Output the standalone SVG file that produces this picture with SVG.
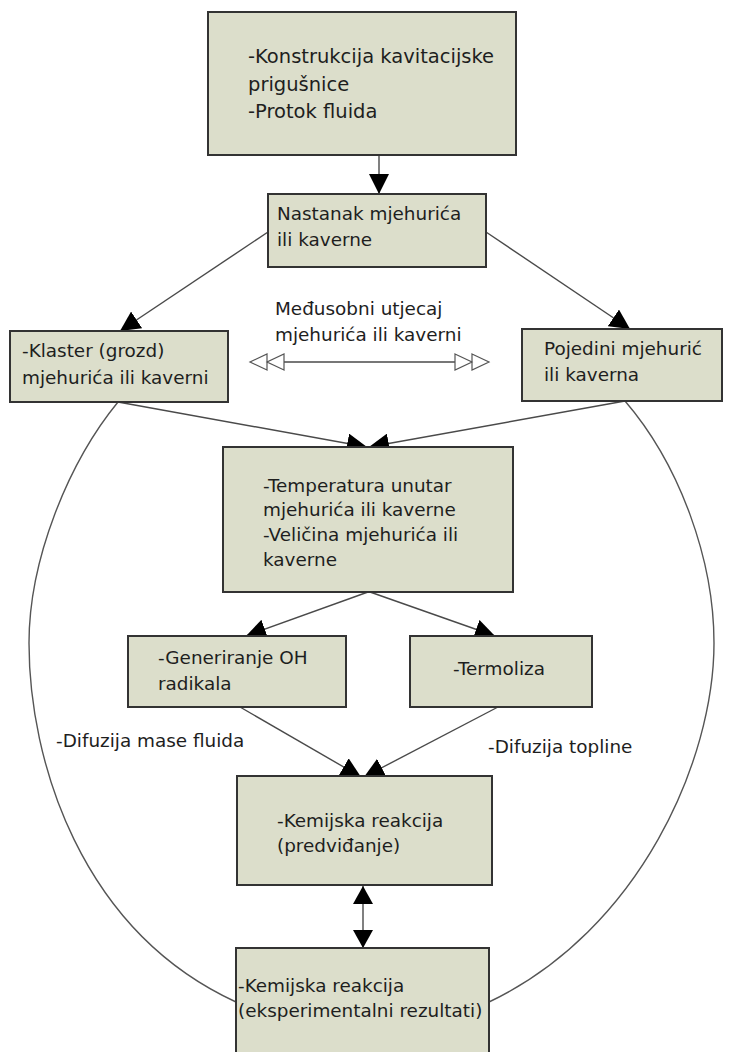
<svg xmlns="http://www.w3.org/2000/svg" width="732" height="1052" viewBox="0 0 732 1052">
<style>
  .box { fill: #dcdecb; stroke: #333; stroke-width: 2; }
  .t { font-family: "DejaVu Sans", "Liberation Sans", sans-serif; font-size: 18.4px; fill: #1e1e1e; }
  .big { font-size: 19.5px; }
  .con { stroke: #4a4a4a; stroke-width: 1.4; fill: none; }
  .arc { stroke: #555; stroke-width: 1.4; fill: none; }
</style>
<defs>
  <marker id="ah" viewBox="0 0 20 20" refX="20" refY="10" markerWidth="20" markerHeight="20" orient="auto" markerUnits="userSpaceOnUse">
    <path d="M0,0 L20,10 L0,20 z" fill="#000"/>
  </marker>
  <marker id="ah2" viewBox="0 0 18 20" refX="18" refY="10" markerWidth="18" markerHeight="20" orient="auto-start-reverse" markerUnits="userSpaceOnUse">
    <path d="M0,0 L18,10 L0,20 z" fill="#000"/>
  </marker>
  <marker id="open2" viewBox="-1 -1 37 18" refX="0" refY="8" markerWidth="37" markerHeight="18" orient="auto-start-reverse" markerUnits="userSpaceOnUse" overflow="visible">
    <path d="M0,0 L17,8 L0,16 z M17,0 L34,8 L17,16 z" fill="#fff" stroke="#555" stroke-width="1.2"/>
  </marker>
</defs>
<rect width="732" height="1052" fill="#fff"/>

<g id="connectors">
  <path class="arc" d="M118,402 C68,463 29,560 29,643 C29,760 80,930 236,1002"/>
  <path class="arc" d="M625,401 C680,465 714,560 714,643 C714,760 640,930 489,1002"/>
  <line class="con" x1="379" y1="155" x2="379" y2="194" marker-end="url(#ah)"/>
  <line class="con" x1="268" y1="232" x2="120" y2="331" marker-end="url(#ah)"/>
  <line class="con" x1="486" y1="232" x2="630" y2="329" marker-end="url(#ah)"/>
  <line class="con" x1="118" y1="402" x2="367" y2="447" marker-end="url(#ah)"/>
  <line class="con" x1="625" y1="401" x2="369" y2="447" marker-end="url(#ah)"/>
  <line class="con" x1="368" y1="592" x2="246" y2="636" marker-end="url(#ah)"/>
  <line class="con" x1="370" y1="592" x2="495" y2="636" marker-end="url(#ah)"/>
  <line class="con" x1="240" y1="707" x2="361" y2="777" marker-end="url(#ah)"/>
  <line class="con" x1="498" y1="707" x2="364" y2="777" marker-end="url(#ah)"/>
  <line class="con" x1="363" y1="886" x2="363" y2="948" marker-start="url(#ah2)" marker-end="url(#ah2)"/>
  <line class="con" x1="284" y1="362" x2="455" y2="362" marker-start="url(#open2)" marker-end="url(#open2)"/>
</g>

<g id="n-top">
  <rect class="box" x="208" y="12" width="308" height="143"/>
  <text class="t big" x="248" y="63">-Konstrukcija kavitacijske</text>
  <text class="t big" x="248" y="91">prigušnice</text>
  <text class="t big" x="248" y="118">-Protok fluida</text>
</g>
<g id="n-nastanak">
  <rect class="box" x="268" y="194" width="218" height="73"/>
  <text class="t" x="277" y="220">Nastanak mjehurića</text>
  <text class="t" x="277" y="246">ili kaverne</text>
</g>
<g id="n-klaster">
  <rect class="box" x="10" y="331" width="218" height="71"/>
  <text class="t" x="22" y="357">-Klaster (grozd)</text>
  <text class="t" x="22" y="384">mjehurića ili kaverni</text>
</g>
<g id="n-pojedini">
  <rect class="box" x="522" y="329" width="200" height="72"/>
  <text class="t" x="544" y="355">Pojedini mjehurić</text>
  <text class="t" x="544" y="381">ili kaverna</text>
</g>
<g id="l-medusobni">
  <text class="t" x="275" y="315">Međusobni utjecaj</text>
  <text class="t" x="275" y="341">mjehurića ili kaverni</text>
</g>
<g id="n-temperatura">
  <rect class="box" x="223" y="447" width="290" height="145"/>
  <text class="t" x="263" y="492">-Temperatura unutar</text>
  <text class="t" x="263" y="516">mjehurića ili kaverne</text>
  <text class="t" x="263" y="541">-Veličina mjehurića ili</text>
  <text class="t" x="263" y="566">kaverne</text>
</g>
<g id="n-generiranje">
  <rect class="box" x="128" y="636" width="218" height="71"/>
  <text class="t" x="158" y="664">-Generiranje OH</text>
  <text class="t" x="158" y="690">radikala</text>
</g>
<g id="n-termoliza">
  <rect class="box" x="410" y="636" width="182" height="71"/>
  <text class="t" x="453" y="675">-Termoliza</text>
</g>
<g id="l-difuzija">
  <text class="t" x="56" y="747">-Difuzija mase fluida</text>
  <text class="t" x="488" y="753">-Difuzija topline</text>
</g>
<g id="n-kemijska">
  <rect class="box" x="237" y="776" width="255" height="109"/>
  <text class="t" x="277" y="827">-Kemijska reakcija</text>
  <text class="t" x="277" y="852">(predviđanje)</text>
</g>
<g id="n-eksperiment">
  <rect class="box" x="236" y="948" width="253" height="112"/>
  <text class="t" x="238" y="992">-Kemijska reakcija</text>
  <text class="t" x="238" y="1017">(eksperimentalni rezultati)</text>
</g>
</svg>
